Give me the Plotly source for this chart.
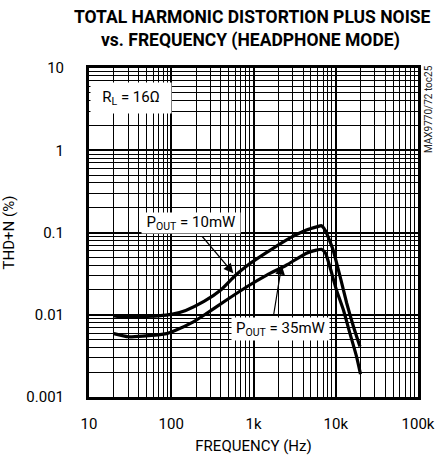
import plotly.graph_objects as go
import numpy as np

# ---- data ----
freq_10mw = [20, 30, 45, 70, 100, 150, 250, 400, 600, 850, 1400, 2500, 4400, 6000, 6700, 7500, 9300, 11300, 13600, 16400, 19700]
thd_10mw = [0.0097, 0.0093, 0.0095, 0.0097, 0.0101, 0.0113, 0.0145, 0.020, 0.030, 0.040, 0.056, 0.081, 0.107, 0.118, 0.121, 0.105, 0.061, 0.029, 0.0138, 0.0072, 0.0041]

freq_35mw = [20, 30, 45, 88, 106, 186, 270, 470, 830, 1450, 2500, 4400, 5800, 6700, 7500, 8500, 10200, 12400, 14900, 17900, 20000]
thd_35mw = [0.0059, 0.0054, 0.0055, 0.0059, 0.0063, 0.0082, 0.0104, 0.0151, 0.0219, 0.0304, 0.040, 0.056, 0.061, 0.0625, 0.056, 0.038, 0.020, 0.0114, 0.0059, 0.0031, 0.0019]

x_tickvals = [10, 100, 1000, 10000, 100000]
x_ticktext = ["10", "100", "1k", "10k", "100k"]
y_tickvals = [10, 1, 0.1, 0.01, 0.001]
y_ticktext = ["10", "1", "0.1", "0.01", "0.001"]

title_line1 = "<b>TOTAL HARMONIC DISTORTION PLUS NOISE</b>"
title_line2 = "<b>vs. FREQUENCY (HEADPHONE MODE)</b>"
x_title = "FREQUENCY (Hz)"
y_title = "THD+N (%)"

FONT = "Roboto, Liberation Sans, sans-serif"

x_minor = [d * 10 ** k for k in range(1, 5) for d in range(2, 10)]
y_minor = [d * 10.0 ** k for k in range(-3, 1) for d in range(2, 10)]

# plot-area geometry in page pixels (pixels -> log10 data units)
L, T, DEC = 89, 68, 82.25
def lx(px):
    return 1 + (px - L) / DEC
def ly(py):
    return 1 - (py - T) / DEC

fig = go.Figure()
fig.add_trace(go.Scatter(x=freq_10mw, y=thd_10mw, mode="lines",
                         line=dict(color="black", width=3.2, shape="spline", smoothing=0.5),
                         showlegend=False, hoverinfo="skip"))
fig.add_trace(go.Scatter(x=freq_35mw, y=thd_35mw, mode="lines",
                         line=dict(color="black", width=3.2, shape="spline", smoothing=0.5),
                         showlegend=False, hoverinfo="skip"))

fig.update_xaxes(type="log", range=[1, 5], tickvals=x_tickvals, ticktext=x_ticktext,
                 showgrid=True, gridcolor="black", gridwidth=1.6,
                 minor=dict(tickvals=x_minor, showgrid=True, gridcolor="black", gridwidth=1, ticks=""),
                 showline=True, linecolor="black", linewidth=3, mirror=True,
                 ticks="", ticklabelstandoff=11, zeroline=False, automargin=False,
                 tickfont=dict(family=FONT, size=15, color="black"),
                 title=dict(text=x_title, font=dict(family=FONT, size=15, color="black"), standoff=11))
fig.update_yaxes(type="log", range=[-3, 1], tickvals=y_tickvals, ticktext=y_ticktext,
                 showgrid=True, gridcolor="black", gridwidth=1.6,
                 minor=dict(tickvals=y_minor, showgrid=True, gridcolor="black", gridwidth=1, ticks=""),
                 showline=True, linecolor="black", linewidth=3, mirror=True,
                 ticks="", ticklabelstandoff=19, zeroline=False, automargin=False,
                 tickfont=dict(family=FONT, size=15, color="black"),
                 title=dict(text=y_title, font=dict(family=FONT, size=15, color="black"), standoff=20))

ann_font = dict(family=FONT, size=15, color="black")
annotations = [
    dict(x=lx(131), y=ly(98), xref="x", yref="y", xanchor="center", yanchor="middle",
         text="R<sub>L</sub> = 16Ω", showarrow=False, bgcolor="white", font=ann_font,
         width=76, height=26, borderpad=2),
    dict(x=lx(191), y=ly(223), xref="x", yref="y", xanchor="center", yanchor="middle",
         text="P<sub>OUT</sub> = 10mW", showarrow=False, bgcolor="white", font=ann_font,
         width=96, height=18, borderpad=1),
    dict(x=lx(280), y=ly(329), xref="x", yref="y", xanchor="center", yanchor="middle",
         text="P<sub>OUT</sub> = 35mW", showarrow=False, bgcolor="white", font=ann_font,
         width=95, height=20, borderpad=1),
    dict(x=lx(233.3), y=ly(273.3), xref="x", yref="y",
         ax=lx(201), ay=ly(235), axref="x", ayref="y",
         text="", showarrow=True, arrowhead=2, arrowsize=1.6, arrowwidth=1.2, arrowcolor="black"),
    dict(x=lx(281.7), y=ly(265), xref="x", yref="y",
         ax=lx(273.3), ay=ly(317), axref="x", ayref="y",
         text="", showarrow=True, arrowhead=2, arrowsize=1.6, arrowwidth=1.2, arrowcolor="black"),
    dict(x=(428 - L) / 329, y=(397 - 109) / 329, xref="paper", yref="paper", text="MAX9770/72 toc25",
         xanchor="center", yanchor="middle",
         textangle=-90, showarrow=False, font=dict(family=FONT, size=10, color="#222222")),
    dict(x=(252 - L) / 329, y=(397 - 17) / 329, xref="paper", yref="paper", text=title_line1,
         xanchor="center", yanchor="middle",
         showarrow=False, font=dict(family=FONT, size=17.5, color="black")),
    dict(x=(250 - L) / 329, y=(397 - 40) / 329, xref="paper", yref="paper", text=title_line2,
         xanchor="center", yanchor="middle",
         showarrow=False, font=dict(family=FONT, size=17.5, color="black")),
]

fig.update_layout(
    width=436, height=455,
    margin=dict(l=L, r=18, t=T, b=58, autoexpand=False),
    paper_bgcolor="white", plot_bgcolor="white",
    annotations=annotations,
    showlegend=False,
)

fig.write_html("out.html", config={"displayModeBar": False},
               post_script="document.body.style.margin='0';document.body.style.overflow='hidden';")
